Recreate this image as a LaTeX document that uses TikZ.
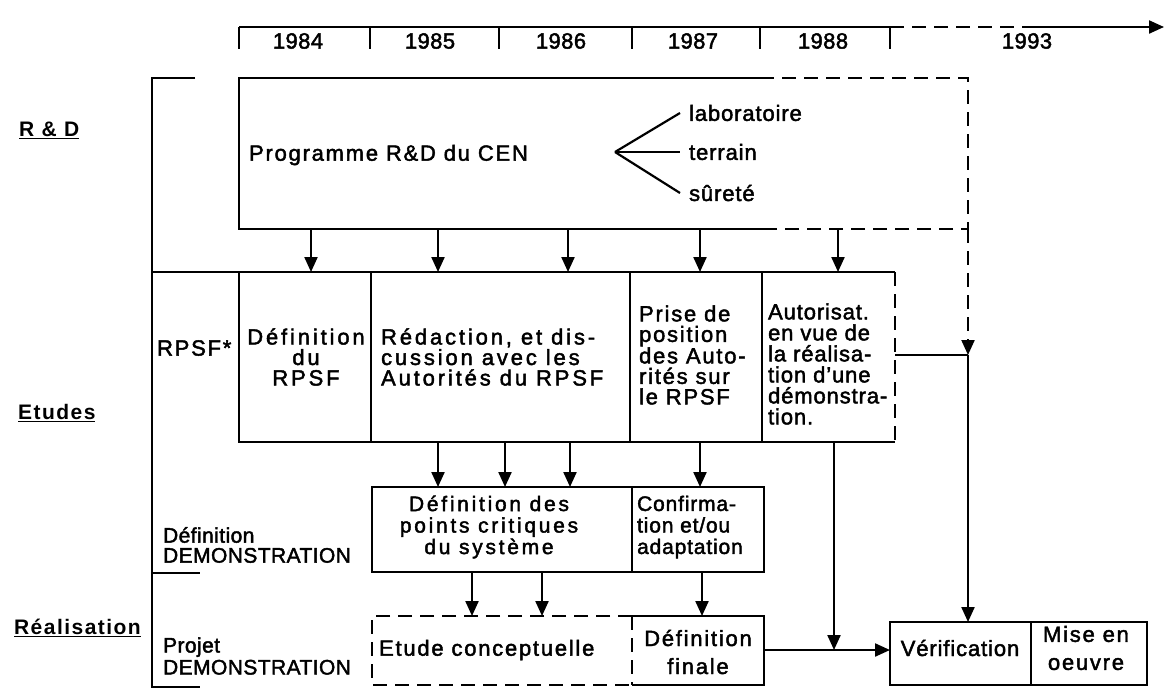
\documentclass[tikz,border=0pt]{standalone}
\usepackage{fontspec}
\setmainfont{Liberation Sans}
\newfontfamily\bxa[LetterSpace=13,FakeBold=2]{Liberation Sans}
\newfontfamily\bxb[LetterSpace=8,FakeBold=2]{Liberation Sans}
\newfontfamily\bxc[LetterSpace=4,FakeBold=2]{Liberation Sans}
\newfontfamily\bxd[LetterSpace=2,FakeBold=2]{Liberation Sans}
\newfontfamily\bxh[LetterSpace=7]{Liberation Sans}
\usetikzlibrary{arrows.meta}
\begin{document}
\begin{tikzpicture}[x=1pt,y=-1pt,line width=2.2pt,
  dsh/.style={dash pattern=on 14pt off 8pt},
  arr/.style={-{Triangle[width=13pt,length=15pt]}},
  yr/.style={inner sep=0pt,font=\bxd\fontsize{22}{24}\selectfont},
  big/.style={inner sep=0pt,font=\bxb\fontsize{22}{24}\selectfont},
  fork/.style={inner sep=0pt,font=\bxc\fontsize{22}{24}\selectfont},
  bta/.style={inner sep=0pt,font=\bxa\fontsize{22}{20.5}\selectfont},
  btb/.style={inner sep=0pt,font=\bxb\fontsize{22}{20.5}\selectfont},
  btc/.style={inner sep=0pt,font=\bxc\fontsize{22}{20.5}\selectfont},
  side/.style={inner sep=0pt,font=\bxd\fontsize{21}{20}\selectfont,align=left},
  hd/.style={inner sep=0pt,font=\bxh\bfseries\fontsize{21}{22}\selectfont},
  cell/.style={inner sep=0pt,outer sep=0pt}]
\useasboundingbox (0,0) rectangle (1166,691);

% ---- timeline
\coordinate (t0) at (239,27);
\coordinate (t1) at (370,27);
\coordinate (t2) at (499,27);
\coordinate (t3) at (632,27);
\coordinate (t4) at (760,27);
\coordinate (t5) at (890,27);
\coordinate (t6) at (1025,27);
\coordinate (t7) at (1164,27);
\draw (t0) -- (t5);
\foreach \t in {t0,t1,t2,t3,t4,t5} \draw (\t) -- ++(0,22);
\draw[dsh] (t5) -- (t6);
\draw[arr] (t6) -- (t7);
\node[yr] (y84) at (298,41) {1984};
\node[yr] (y85) at (430,41) {1985};
\node[yr] (y86) at (561,41) {1986};
\node[yr] (y87) at (693,41) {1987};
\node[yr] (y88) at (823,41) {1988};
\node[yr] (y93) at (1027,41) {1993};

% ---- left bracket and headings
\coordinate (bk0) at (195,78);
\coordinate (bt0) at (152,78);
\coordinate (bt1) at (152,687);
\coordinate (bk3) at (200,687);
\coordinate (bk2) at (200,573);
\draw (bk0) -- (bt0) -- (bt1) -- (bk3);
\draw (bt0 |- bk2) -- (bk2);
\node[hd,anchor=west] (hrd) at (18,130) {\underline{R \& D}};
\node[hd,anchor=west] (het) at (17,413) {\underline{Etudes}};
\node[hd,anchor=west] (hre) at (13,628) {\underline{Réalisation}};

% ---- R&D box
\node[cell,minimum width=729pt,minimum height=151pt] (rd) at (603.5,153.5) {};
\coordinate (rdt) at (760,78);
\coordinate (rdb) at (763,229);
\draw (rdt) -- (rd.north west) -- (rd.south west) -- (rdb);
\draw[dsh] (rdt) -- (rd.north east) -- (rd.south east) -- (rdb);
\node[big,anchor=west] (prog) at (248,155) {Programme R\&D du CEN};
\coordinate (fk) at (615,152);
\node[fork,anchor=west] (lab) at (688,113) {laboratoire};
\node[fork,anchor=west] (ter) at (688,152) {terrain};
\node[fork,anchor=west] (sur) at (688,193) {sûreté};
\draw (fk) -- ([xshift=-8pt]lab.west);
\draw (fk) -- ([xshift=-8pt]ter.west);
\draw (fk) -- ([xshift=-8pt]sur.west);

% ---- Etudes row
\node[cell,draw,minimum width=132pt,minimum height=170pt] (e0) at (305,357) {};
\node[cell,draw,minimum width=259pt,minimum height=170pt] (e1) at (500.5,357) {};
\node[cell,draw,minimum width=132pt,minimum height=170pt] (e2) at (696,357) {};
\node[cell,minimum width=133pt,minimum height=170pt] (e3) at (828.5,357) {};
\draw (e3.north east) -- (e3.north west) -- (e3.south west) -- (e3.south east);
\draw[dsh] (e3.north east) -- (e3.south east);
\draw (bt0 |- e0.north) -- (e0.north west);
\node[btb,anchor=west] (rpsf) at (156,348) {RPSF*};
\node[bta,align=center] (te0) at (306,357) {Définition\\du\\RPSF};
\node[bta,align=left,anchor=west] (te1) at (380,357) {Rédaction, et dis-\\cussion avec les\\Autorités du RPSF};
\node[btb,align=left,anchor=west] (te2) at (638,355) {Prise de\\position\\des Auto-\\rités sur\\le RPSF};
\node[btc,align=left,anchor=west,font=\bxc\fontsize{22}{21}\selectfont] (te3) at (767,364) {Autorisat.\\en vue de\\la réalisa-\\tion d’une\\démonstra-\\tion.};

% ---- Definition DEMONSTRATION row
\node[side,anchor=west] (ldd) at (162,545) {Définition\\DEMONSTRATION};
\node[cell,draw,minimum width=260pt,minimum height=85pt] (d1) at (502,529.5) {};
\node[cell,draw,minimum width=132pt,minimum height=85pt] (d2) at (698,529.5) {};
\node[bta,align=center,font=\bxa\fontsize{21}{21.5}\selectfont] (td1) at (489,527) {Définition des\\points critiques\\du système};
\node[btc,align=left,anchor=west,font=\bxc\fontsize{21}{21.5}\selectfont] (td2) at (636,527) {Confirma-\\tion et/ou\\adaptation};

% ---- Projet DEMONSTRATION row
\node[side,anchor=west,font=\bxd\fontsize{21}{22}\selectfont] (lpd) at (162,656) {Projet\\DEMONSTRATION};
\node[cell,minimum width=260pt,minimum height=69pt] (p1) at (502,650.5) {};
\node[cell,minimum width=132pt,minimum height=69pt] (p2) at (698,650.5) {};
\draw[dsh] (p1.north east) -- (p1.north west) -- (p1.south west) -- (p1.south east);
\draw (p2.north west) -- (p2.north east) -- (p2.south east) -- (p2.south west);
\draw[dsh] (p2.north west) -- (p2.south west);
\node[btb,anchor=west] (tp1) at (378,650) {Etude conceptuelle};
\node[btb,align=center,font=\bxb\fontsize{22}{28}\selectfont] (tp2) at (698,652) {Définition\\finale};

% ---- Verification
\node[cell,draw,minimum width=141pt,minimum height=63pt] (v1) at (960.5,653.5) {};
\node[cell,draw,minimum width=116pt,minimum height=63pt] (v2) at (1089,653.5) {};
\node[btc] (tv1) at (960,648) {Vérification};
\node[btb,align=center,font=\bxb\fontsize{22}{28}\selectfont] (tv2) at (1086,648) {Mise en\\oeuvre};

% ---- connectors
\coordinate (a1) at (311,229);
\coordinate (a2) at (438,229);
\coordinate (a3) at (568,229);
\coordinate (a4) at (700,229);
\coordinate (a5) at (838,229);
\draw[arr] (a1) -- (a1 |- e0.north);
\draw[arr] (a2) -- (a2 |- e1.north);
\draw[arr] (a3) -- (a3 |- e1.north);
\draw[arr] (a4) -- (a4 |- e2.north);
\draw[arr] (a5) -- (a5 |- e3.north);

\coordinate (b1) at (438,442);
\coordinate (b2) at (505,442);
\coordinate (b3) at (570,442);
\coordinate (b4) at (700,442);
\draw[arr] (b1) -- (b1 |- d1.north);
\draw[arr] (b2) -- (b2 |- d1.north);
\draw[arr] (b3) -- (b3 |- d1.north);
\draw[arr] (b4) -- (b4 |- d2.north);

\coordinate (c1) at (472,572);
\coordinate (c2) at (542,572);
\coordinate (c3) at (702,572);
\draw[arr] (c1) -- (c1 |- p1.north);
\draw[arr] (c2) -- (c2 |- p1.north);
\draw[arr] (c3) -- (c3 |- p2.north);

\coordinate (c4) at (834,442);
\coordinate (m) at (834,650);
\draw[arr] (c4) -- (m);
\draw[arr] (p2.east |- m) -- (v1.west |- m);

\coordinate (jn) at (968,355);
\draw[dsh,arr] (rd.south east) -- (jn);
\draw (e3.east |- jn) -- (jn);
\draw[arr] (jn) -- (jn |- v1.north);
\end{tikzpicture}
\end{document}
